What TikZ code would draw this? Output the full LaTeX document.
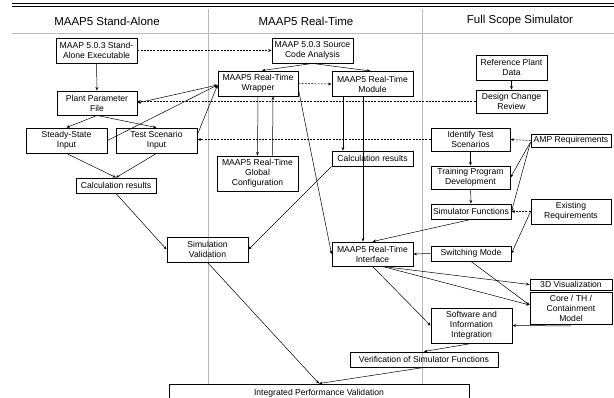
\documentclass[tikz,border=0pt]{standalone}
\usepackage{fontspec}
\setmainfont{Liberation Sans}
\usetikzlibrary{arrows.meta,calc}

\begin{document}
\begin{tikzpicture}[x=1pt,y=-1pt,
    >={Stealth[length=3.5pt,width=2.8pt]},
    blk/.style={draw, line width=0.9pt, align=center, inner sep=0.5pt, font=\fontsize{8.6}{10}\selectfont},
    lnk/.style={->, line width=0.5pt},
    dlnk/.style={lnk, dash pattern=on 2pt off 1.2pt},
    sep/.style={gray!55, line width=0.7pt}]
    \useasboundingbox (0,0) rectangle (614,398);
    \draw[line width=1.6pt] (12,3.5) -- (614,3.5);
    \draw[line width=0.6pt] (12,6.5) -- (614,6.5);
    \draw[sep] (12,33) -- (614,33);
    \foreach \x in {208,422} \draw[sep] (\x,9) -- (\x,384);
    \foreach \n/\x/\t in {hsa/107/MAAP5 Stand-Alone, hrt/306/MAAP5 Real-Time, hfs/520/Full Scope Simulator}
        \node[font=\fontsize{11.5}{13}\selectfont] (\n) at (\x,21) {\t};

    \foreach \n/\x/\y/\w/\h/\t in {
        exec/96.5/50.5/81/25/{MAAP 5.0.3 Stand-\\Alone Executable},
        sca/312.5/50.5/81/25/{MAAP 5.0.3 Source\\Code Analysis},
        wrap/258/83.5/80/25/{MAAP5 Real-Time\\Wrapper},
        module/372.5/84/81/25/{MAAP5 Real-Time\\Module},
        rpd/511.5/67.5/71/25/{Reference Plant\\Data},
        dcr/511.5/101.5/71/23/{Design Change\\Review},
        ppf/97/103/80/24/{Plant Parameter\\File},
        ss/66.5/140.5/81/25/{Steady-State\\Input},
        ts/156.5/140.5/81/25/{Test Scenario\\Input},
        its/470.5/139.5/79/23/{Identify Test\\Scenarios},
        amp/571/140.5/80/13/{AMP Requirements},
        calcM/372.5/158.5/81/15/{Calculation results},
        gc/257.5/173.5/81/35/{MAAP5 Real-Time\\Global\\Configuration},
        tpd/470.5/177.5/79/23/{Training Program\\Development},
        calcL/116/185.5/80/15/{Calculation results},
        sf/471/211.5/80/15/{Simulator Functions},
        er/571/211.5/80/25/{Existing\\Requirements},
        sv/207.5/249.5/81/25/{Simulation\\Validation},
        iface/372.5/254/81/24/{MAAP5 Real-Time\\Interface},
        sm/471/253.5/80/15/{Switching Mode},
        vis/571/284.5/82/11/{3D Visualization},
        sw/471.5/325.5/81/35/{Software and\\Information\\Integration},
        ver/424/359.5/148/15/{Verification of Simulator Functions},
        integ/319/393/300/18/{Integrated Performance Validation}%
    }
        \node[blk, minimum width=\w, minimum height=\h] (\n) at (\x,\y) {\t};
    \node[blk, minimum width=82, minimum height=32] (core) at (571,308) {Core / TH /\\Containment\\Model};

    \coordinate (wrapin) at ($(wrap.west)+(0,1.5)$);
    \coordinate (corein) at ($(core.west)+(0,-3)$);
    \coordinate (ampout) at ($(amp.west)+(0,1.5)$);

    \draw[dlnk] (exec.east) -- (sca.west);
    \draw[lnk] (exec) -- (ppf);
    \draw[lnk] (sca.south) -- ($(wrap.north)+(4,0)$);
    \draw[lnk] (sca.south) -- ($(module.north)+(-2,0)$);
    \draw[dlnk] (wrap.east) -- (module.west);
    \draw[lnk,<->] (ppf.east) -- (wrapin);
    \draw[lnk] (ss.east) -- (wrapin);
    \draw[lnk] ($(ts.east)+(0,-6)$) -- (wrapin);
    \draw[dlnk] (dcr.west) -- (dcr.west -| ppf.east);
    \draw[dlnk] (its.west) -- (its.west -| ts.east);
    \draw[lnk] (ppf.south) -- (ss.north);
    \draw[lnk] (ppf.south) -- (ts.north);
    \draw[lnk] (ss.south) -- (calcL.north);
    \draw[lnk] (ts.south) -- (calcL.north);
    \draw[lnk] (calcL.south) -- (sv.west);
    \draw[lnk] (calcM.south west) -- (sv.east);
    \draw[lnk] (sv.south) -- (integ.north);
    \draw[lnk] (ver.south) -- (integ.north);
    \draw[lnk] (wrap.south) -- (gc.north);
    \draw[lnk] ($(gc.north)+(15,0)$) -- ($(wrap.south)+(15,0)$);
    \draw[lnk] ($(module.south)+(-29.5,0)$) -- ($(calcM.north)+(-29.5,0)$);
    \draw[lnk] ($(module.south)+(-9.5,0)$) -- ($(iface.north)+(-9.5,0)$);
    \draw[lnk] ($(wrap.east)+(0,6)$) -- (iface.west);
    \draw[lnk] (sf.south) -- (iface.north);
    \draw[lnk] (sm.west) -- (iface.east);
    \draw[lnk] (iface.south) -- (sw.west);
    \draw[lnk] ($(iface.south)+(10,0)$) -- (vis.west);
    \draw[lnk] ($(iface.south)+(10,0)$) -- (corein);
    \draw[lnk] (sm.south) -- (corein);
    \draw[lnk] ($(core.south)+(0,1.5)$) -- (sw.east);
    \draw[lnk] (sw.south) -- (ver.north);
    \draw[lnk] (rpd) -- (dcr);
    \draw[lnk] (its) -- (tpd);
    \draw[lnk] (tpd) -- (sf);
    \draw[dlnk] (amp.west) -- (its.east);
    \draw[lnk] (ampout) -- (tpd.east);
    \draw[lnk] (ampout) -- (sf.east);
    \draw[dlnk] (er.west) -- (sf.east);
    \draw[lnk] (er.west) -- (sm.east);
\end{tikzpicture}
\end{document}
